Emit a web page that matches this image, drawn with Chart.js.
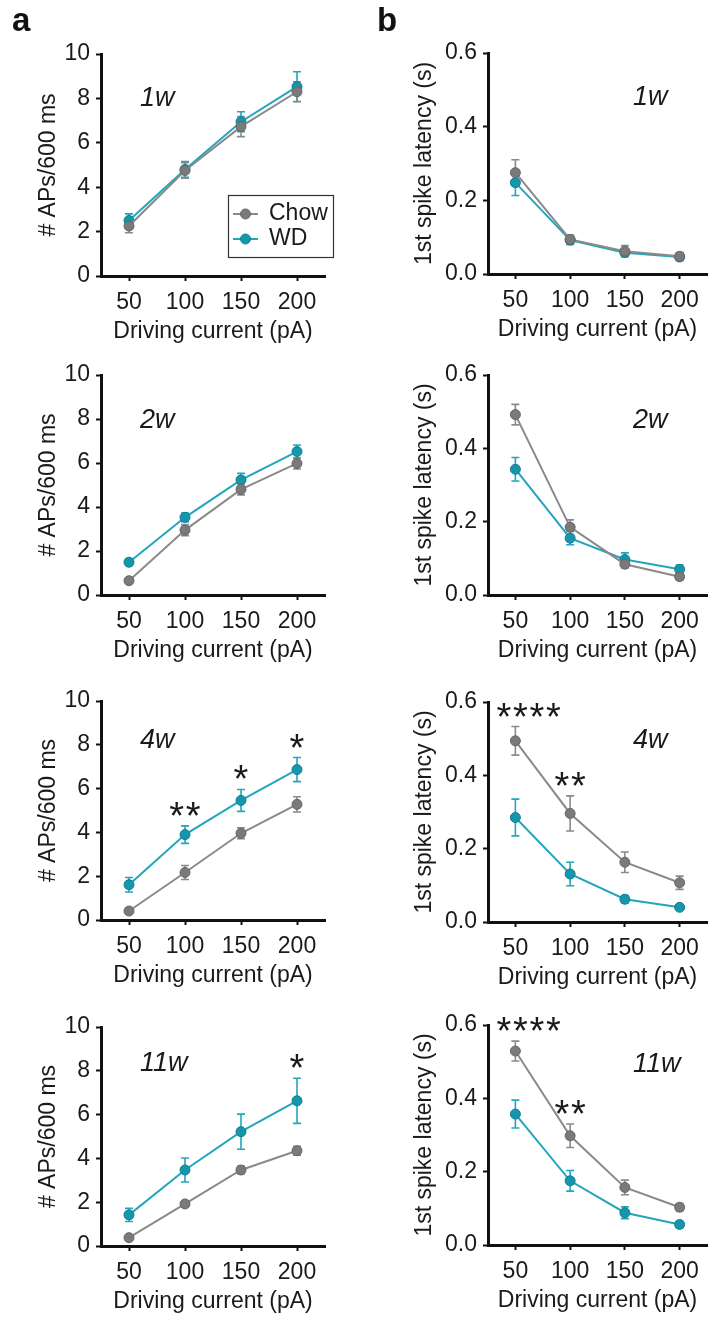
<!DOCTYPE html>
<html>
<head>
<meta charset="utf-8">
<script src="https://cdn.jsdelivr.net/npm/chart.js@4.4.0/dist/chart.umd.min.js"></script>
<style>
  body { margin: 0; background: #fff; width: 713px; height: 1320px; position: relative; overflow: hidden;
         font-family: 'Liberation Sans', Arial, sans-serif; }
  canvas { position: absolute; }
  .tag { position: absolute; font-weight: bold; font-size: 33px; line-height: 33px; color: #111; z-index: 5; }
</style>
</head>
<body>
<div class="tag" style="left:12px; top:3px">a</div>
<div class="tag" style="left:377px; top:3px">b</div>
<canvas id="a1"></canvas>
<canvas id="a2"></canvas>
<canvas id="a3"></canvas>
<canvas id="a4"></canvas>
<canvas id="b1"></canvas>
<canvas id="b2"></canvas>
<canvas id="b3"></canvas>
<canvas id="b4"></canvas>
<script>
const currents = ['50', '100', '150', '200'];
const apTicks = [0, 2, 4, 6, 8, 10];
const latTicks = [0, 0.2, 0.4, 0.6];

// # APs / 600 ms, mean and SEM
const ap1wChow = [2.25, 4.75, 6.73, 8.3];
const ap1wChowSem = [0.3, 0.35, 0.45, 0.45];
const ap1wWd = [2.5, 4.8, 6.95, 8.53];
const ap1wWdSem = [0.3, 0.35, 0.45, 0.67];

const ap2wChow = [0.65, 2.95, 4.8, 5.98];
const ap2wChowSem = [0.1, 0.25, 0.25, 0.25];
const ap2wWd = [1.49, 3.53, 5.23, 6.52];
const ap2wWdSem = [0.15, 0.2, 0.3, 0.3];

const ap4wChow = [0.41, 2.17, 3.96, 5.28];
const ap4wChowSem = [0.05, 0.32, 0.25, 0.35];
const ap4wWd = [1.61, 3.9, 5.46, 6.87];
const ap4wWdSem = [0.33, 0.4, 0.5, 0.55];
const ap4wStars = [null, '**', '*', '*'];

const ap11wChow = [0.38, 1.92, 3.47, 4.35];
const ap11wChowSem = [0.05, 0.12, 0.18, 0.2];
const ap11wWd = [1.42, 3.47, 5.22, 6.63];
const ap11wWdSem = [0.3, 0.55, 0.8, 1.03];
const ap11wStars = [null, null, null, '*'];

// 1st spike latency (s), mean and SEM
const lat1wChow = [0.275, 0.094, 0.062, 0.048];
const lat1wChowSem = [0.035, 0.012, 0.015, 0.01];
const lat1wWd = [0.248, 0.092, 0.058, 0.046];
const lat1wWdSem = [0.035, 0.012, 0.01, 0.01];

const lat2wChow = [0.492, 0.185, 0.084, 0.05];
const lat2wChowSem = [0.028, 0.02, 0.01, 0.008];
const lat2wWd = [0.343, 0.155, 0.097, 0.07];
const lat2wWdSem = [0.032, 0.018, 0.018, 0.012];

const lat4wChow = [0.494, 0.296, 0.163, 0.107];
const lat4wChowSem = [0.039, 0.048, 0.028, 0.018];
const lat4wWd = [0.285, 0.131, 0.062, 0.04];
const lat4wWdSem = [0.05, 0.032, 0.01, 0.006];
const lat4wStars = ['****', '**', null, null];

const lat11wChow = [0.529, 0.298, 0.157, 0.103];
const lat11wChowSem = [0.027, 0.032, 0.02, 0.01];
const lat11wWd = [0.357, 0.175, 0.088, 0.056];
const lat11wWdSem = [0.038, 0.028, 0.016, 0.008];
const lat11wStars = ['****', '**', null, null];

const textColor = '#1a1a1a';
const axisColor = '#111';
const chowLine = '#8a8a8a', chowFill = '#7a7a7a', chowEdge = '#666';
const wdLine = '#22a6bc', wdFill = '#1696ad', wdEdge = '#117e91';

Chart.defaults.font.family = "'Liberation Sans', Arial, sans-serif";
Chart.defaults.font.size = 23;
Chart.defaults.color = textColor;

// layout of the 8 panels: column, chart-area top/bottom (page px), week tag placement
const panels = [
  { id: 'a1', col: 0, top: 54, bottom: 276, kind: 'ap', tag: '1w', tagY: 44, legend: true,
    chow: ap1wChow, chowSem: ap1wChowSem, wd: ap1wWd, wdSem: ap1wWdSem, stars: [] },
  { id: 'a2', col: 0, top: 375, bottom: 595, kind: 'ap', tag: '2w', tagY: 45,
    chow: ap2wChow, chowSem: ap2wChowSem, wd: ap2wWd, wdSem: ap2wWdSem, stars: [] },
  { id: 'a3', col: 0, top: 701, bottom: 920, kind: 'ap', tag: '4w', tagY: 39,
    chow: ap4wChow, chowSem: ap4wChowSem, wd: ap4wWd, wdSem: ap4wWdSem, stars: ap4wStars },
  { id: 'a4', col: 0, top: 1027, bottom: 1246, kind: 'ap', tag: '11w', tagY: 36,
    chow: ap11wChow, chowSem: ap11wChowSem, wd: ap11wWd, wdSem: ap11wWdSem, stars: ap11wStars },
  { id: 'b1', col: 1, top: 53, bottom: 274, kind: 'lat', tag: '1w', tagY: 44,
    chow: lat1wChow, chowSem: lat1wChowSem, wd: lat1wWd, wdSem: lat1wWdSem, stars: [] },
  { id: 'b2', col: 1, top: 375, bottom: 595, kind: 'lat', tag: '2w', tagY: 45,
    chow: lat2wChow, chowSem: lat2wChowSem, wd: lat2wWd, wdSem: lat2wWdSem, stars: [] },
  { id: 'b3', col: 1, top: 702, bottom: 922, kind: 'lat', tag: '4w', tagY: 38,
    chow: lat4wChow, chowSem: lat4wChowSem, wd: lat4wWd, wdSem: lat4wWdSem, stars: lat4wStars },
  { id: 'b4', col: 1, top: 1025, bottom: 1245, kind: 'lat', tag: '11w', tagY: 39,
    chow: lat11wChow, chowSem: lat11wChowSem, wd: lat11wWd, wdSem: lat11wWdSem, stars: lat11wStars },
];

const figPlugin = {
  id: 'fig',
  beforeDatasetsDraw(chart) {
    const { ctx } = chart;
    const xs = chart.scales.x, ys = chart.scales.y;
    ctx.save();
    ctx.lineWidth = 1.6;
    chart.data.datasets.slice().reverse().forEach(ds => {
      ctx.strokeStyle = ds.borderColor;
      ds.data.forEach((v, i) => {
        const px = xs.getPixelForValue(i);
        const hi = ys.getPixelForValue(v + ds.sem[i]);
        const lo = ys.getPixelForValue(v - ds.sem[i]);
        ctx.beginPath();
        ctx.moveTo(px, hi); ctx.lineTo(px, lo);
        ctx.moveTo(px - 4, hi); ctx.lineTo(px + 4, hi);
        ctx.moveTo(px - 4, lo); ctx.lineTo(px + 4, lo);
        ctx.stroke();
      });
    });
    ctx.restore();
  },
  afterDraw(chart, args, opts) {
    const { ctx, chartArea } = chart;
    const xs = chart.scales.x, ys = chart.scales.y;
    ctx.save();
    ctx.fillStyle = textColor;

    // week tag
    ctx.font = "italic 27px 'Liberation Sans', Arial, sans-serif";
    ctx.textAlign = 'left';
    ctx.textBaseline = 'middle';
    ctx.fillText(opts.tag, chartArea.left + opts.tagX, chartArea.top + opts.tagY);

    // significance stars above the higher error bar
    ctx.font = "38px 'Liberation Sans', Arial, sans-serif";
    ctx.textAlign = 'center';
    ctx.textBaseline = 'alphabetic';
    const step = 16.5;
    (opts.stars || []).forEach((s, i) => {
      if (!s) return;
      const top = Math.max(...chart.data.datasets.map(ds => ds.data[i] + ds.sem[i]));
      const half = ((s.length - 1) * step + 12) / 2;
      const cx = Math.max(xs.getPixelForValue(i), chartArea.left + 10 + half);
      const by = ys.getPixelForValue(top) + 3;
      for (let k = 0; k < s.length; k++) {
        ctx.fillText('*', cx + (k - (s.length - 1) / 2) * step, by);
      }
    });

    // legend box
    if (opts.legend) {
      const lx = chartArea.right - 97, ly = chartArea.top + 141;
      ctx.strokeStyle = '#333';
      ctx.lineWidth = 1.2;
      ctx.strokeRect(lx + 0.5, ly + 0.5, 105, 62);
      ctx.font = "23px 'Liberation Sans', Arial, sans-serif";
      ctx.textAlign = 'left';
      ctx.textBaseline = 'middle';
      chart.data.datasets.forEach((ds, j) => {
        const ry = ly + 19 + j * 25;
        ctx.strokeStyle = ds.borderColor;
        ctx.lineWidth = 2;
        ctx.beginPath();
        ctx.moveTo(lx + 5, ry); ctx.lineTo(lx + 30, ry);
        ctx.stroke();
        ctx.beginPath();
        ctx.arc(lx + 17.5, ry, 5, 0, Math.PI * 2);
        ctx.fillStyle = ds.pointBackgroundColor;
        ctx.fill();
        ctx.strokeStyle = ds.pointBorderColor;
        ctx.lineWidth = 1;
        ctx.stroke();
        ctx.fillStyle = textColor;
        ctx.fillText(ds.label, lx + 41, ry);
      });
    }
    ctx.restore();
  }
};

function makeChart(p) {
  const isAp = p.kind === 'ap';
  const el = document.getElementById(p.id);
  const padTop = 40;
  const width = p.col === 0 ? 356 : 357;
  el.width = width;
  el.height = padTop + (p.bottom - p.top) + 70;
  el.style.left = (p.col === 0 ? 0 : 356) + 'px';
  el.style.top = (p.top - padTop) + 'px';

  const tickValues = isAp ? apTicks : latTicks;

  new Chart(el, {
    type: 'line',
    data: {
      labels: currents,
      datasets: [
        { label: 'Chow', data: p.chow, sem: p.chowSem, borderColor: chowLine, borderWidth: 2,
          pointBackgroundColor: chowFill, pointBorderColor: chowEdge, pointBorderWidth: 1, pointRadius: 5,
          tension: 0, clip: false },
        { label: 'WD', data: p.wd, sem: p.wdSem, borderColor: wdLine, borderWidth: 2,
          pointBackgroundColor: wdFill, pointBorderColor: wdEdge, pointBorderWidth: 1, pointRadius: 5,
          tension: 0, clip: false },
      ],
    },
    options: {
      responsive: false,
      animation: false,
      events: [],
      layout: { padding: { left: 0, right: p.col === 0 ? 31 : 1, top: padTop, bottom: 0 } },
      plugins: {
        legend: { display: false },
        tooltip: { enabled: false },
        fig: { tag: p.tag, tagX: p.col === 0 ? 39 : 145, tagY: p.tagY, stars: p.stars, legend: !!p.legend },
      },
      scales: {
        x: {
          type: 'category',
          offset: true,
          grid: { drawOnChartArea: false, offset: false, tickLength: 5, tickWidth: 2, tickColor: axisColor },
          border: { color: axisColor, width: 3 },
          ticks: { padding: 8, maxRotation: 0, autoSkip: false },
          title: { display: true, text: 'Driving current (pA)', padding: { top: 0, bottom: 1 } },
          afterFit: s => { s.height = 70; },
        },
        y: {
          min: 0,
          max: isAp ? 10 : 0.6,
          afterBuildTicks: s => { s.ticks = tickValues.map(v => ({ value: v })); },
          grid: { drawOnChartArea: false, tickLength: 5, tickWidth: 2, tickColor: axisColor },
          border: { color: axisColor, width: 3 },
          ticks: { padding: 6, callback: v => isAp ? String(v) : v.toFixed(1) },
          title: { display: true, text: isAp ? '# APs/600 ms' : '1st spike latency (s)',
                   padding: { top: p.col === 0 ? 35 : 55, bottom: 0 } },
          afterFit: s => { s.width = p.col === 0 ? 101 : 132; },
        },
      },
    },
    plugins: [figPlugin],
  });
}

panels.forEach(makeChart);
</script>
</body>
</html>
